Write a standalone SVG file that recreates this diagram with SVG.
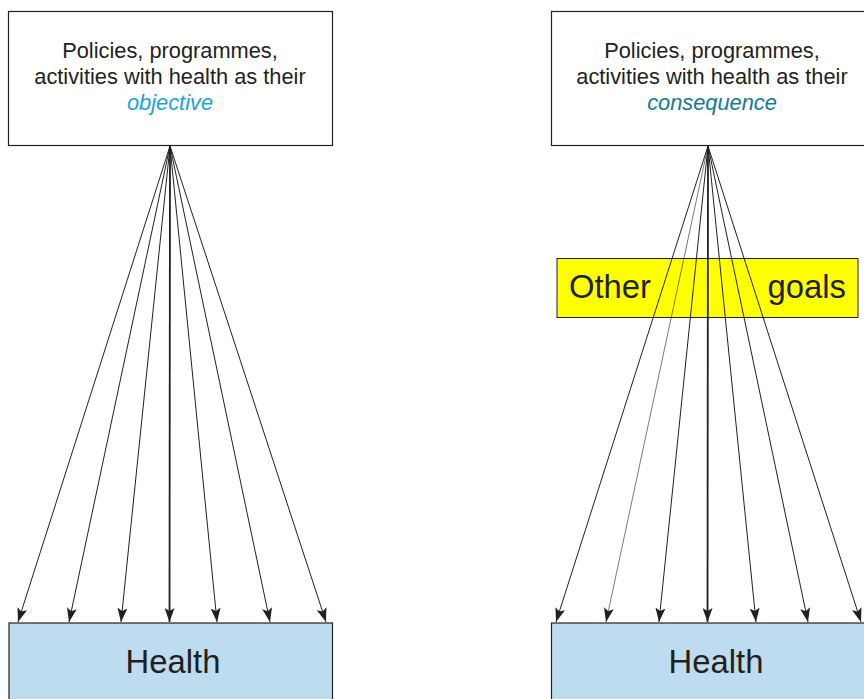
<svg xmlns="http://www.w3.org/2000/svg" width="864" height="699" viewBox="0 0 864 699">
<style>
.box{fill:#fff;stroke:#231f20;stroke-width:1.2}
.hbox{fill:#bddcef;stroke:#231f20;stroke-width:1.2}
.ybox{fill:#ffff00;stroke:#231f20;stroke-width:1}
.t{font-family:"Liberation Sans",Arial,sans-serif;fill:#231f20;text-anchor:middle}
.sm{font-size:21.8px}
.big{font-size:32.8px}
.ln{stroke:#231f20;stroke-width:1;fill:none;marker-end:url(#ah)}
</style>
<defs>
<marker id="ah" markerUnits="userSpaceOnUse" markerWidth="14" markerHeight="10" viewBox="0 0 14 10" refX="14" refY="5" orient="auto">
<path d="M0,0 L14,5 L0,10 L3,5 Z" fill="#231f20"/>
</marker>
</defs>
<rect width="864" height="699" fill="#fff"/>
<g id="left-top">
<rect class="box" x="8.5" y="11.5" width="324" height="134"/>
<text class="t sm" x="170" y="58">Policies, programmes,</text>
<text class="t sm" x="170" y="84">activities with health as their</text>
<text class="t sm" x="170" y="110" font-style="italic" style="fill:#1ba3df">objective</text>
</g>
<g id="right-top">
<rect class="box" x="551.5" y="11.5" width="320" height="134"/>
<text class="t sm" x="712" y="58">Policies, programmes,</text>
<text class="t sm" x="712" y="84">activities with health as their</text>
<text class="t sm" x="712" y="110" font-style="italic" style="fill:#17799a">consequence</text>
</g>
<g id="other-goals">
<rect class="ybox" x="557" y="258.5" width="301" height="59"/>
<text class="t big" x="569" y="298" style="text-anchor:start">Other</text>
<text class="t big" x="846" y="298" style="text-anchor:end">goals</text>
</g>
<g id="left-health">
<rect class="hbox" x="9" y="623" width="323.5" height="82"/>
<text class="t big" x="173" y="673">Health</text>
</g>
<g id="right-health">
<rect class="hbox" x="551.5" y="623" width="320" height="82"/>
<text class="t big" x="716" y="673">Health</text>
</g>
<g id="connectors">
<line class="ln" x1="170" y1="146" x2="18" y2="622"/>
<line class="ln" x1="170" y1="146" x2="69" y2="622"/>
<line class="ln" x1="170" y1="146" x2="121" y2="622"/>
<line class="ln" x1="170" y1="146" x2="169.5" y2="622" style="stroke-width:1.8"/>
<line class="ln" x1="170" y1="146" x2="217" y2="622"/>
<line class="ln" x1="170" y1="146" x2="270" y2="622"/>
<line class="ln" x1="170" y1="146" x2="326" y2="622"/>
<line class="ln" x1="708" y1="146" x2="556" y2="622"/>
<line class="ln" x1="708" y1="146" x2="606" y2="622" style="stroke-width:0.6"/>
<line class="ln" x1="708" y1="146" x2="659" y2="622"/>
<line class="ln" x1="708" y1="146" x2="707.5" y2="622" style="stroke-width:1.8"/>
<line class="ln" x1="708" y1="146" x2="756" y2="622"/>
<line class="ln" x1="708" y1="146" x2="808" y2="622"/>
<line class="ln" x1="708" y1="146" x2="861" y2="622"/>
</g>
</svg>
